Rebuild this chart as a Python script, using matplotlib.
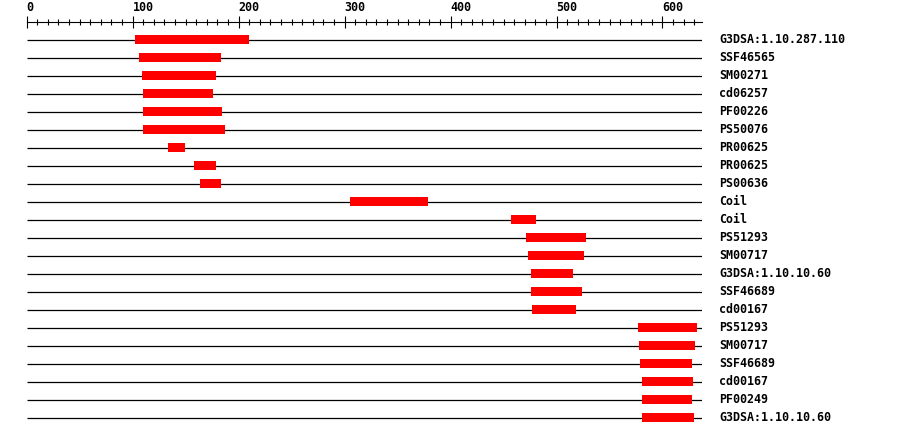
import matplotlib
matplotlib.use("Agg")
import matplotlib.pyplot as plt

seq_length = 637
labels = ["G3DSA:1.10.287.110", "SSF46565", "SM00271", "cd06257", "PF00226",
          "PS50076", "PR00625", "PR00625", "PS00636", "Coil", "Coil",
          "PS51293", "SM00717", "G3DSA:1.10.10.60", "SSF46689", "cd00167",
          "PS51293", "SM00717", "SSF46689", "cd00167", "PF00249",
          "G3DSA:1.10.10.60"]
starts = [102, 106, 109, 110, 110, 110, 133, 158, 164, 305, 457,
          471, 473, 476, 476, 477, 577, 578, 579, 581, 581, 581]
ends = [210, 183, 179, 176, 184, 187, 149, 179, 183, 379, 481,
        528, 526, 516, 524, 518, 633, 631, 628, 629, 628, 630]

W, H = 900, 436
fig = plt.figure(figsize=(W / 100, H / 100), dpi=100)
left_px, right_px, top_px = 26.7, 701.7, 22.5
row0_px, row_step = 39.6, 18.0
ax = fig.add_axes([left_px / W, 0, (right_px - left_px) / W, (H - top_px) / H])
ax.set_xlim(0, seq_length)
ax.set_ylim((H - row0_px) / row_step, (top_px - row0_px) / row_step)

font = dict(family="DejaVu Sans Mono", weight="bold", size=8.4)
n = len(labels)
rows = list(range(n))
ax.hlines(rows, 0, seq_length, color="black", lw=0.9)
ax.barh(rows, [e - s for s, e in zip(starts, ends)], left=starts,
        height=0.5, color="#ff0000", zorder=3)
for r, lab in zip(rows, labels):
    ax.annotate(lab, (seq_length, r), xytext=(12.5, 0), textcoords="offset points",
                ha="left", va="center", annotation_clip=False, **font)

for s in ["left", "right", "bottom"]:
    ax.spines[s].set_visible(False)
ax.spines["top"].set_linewidth(0.8)
ax.yaxis.set_visible(False)
ax.xaxis.tick_top()
ax.set_xticks(range(0, seq_length, 100))
ax.set_xticks(range(0, seq_length, 10), minor=True)
ax.tick_params(axis="x", which="major", direction="inout", length=8.6, width=0.8,
               pad=1.5)
ax.tick_params(axis="x", which="minor", direction="inout", length=4.3, width=0.8)
for t in ax.get_xticklabels():
    t.set_ha("left")
    t.set_fontfamily("DejaVu Sans Mono")
    t.set_fontweight("bold")
    t.set_fontsize(8.4)

fig.savefig("out.png", dpi=100)
